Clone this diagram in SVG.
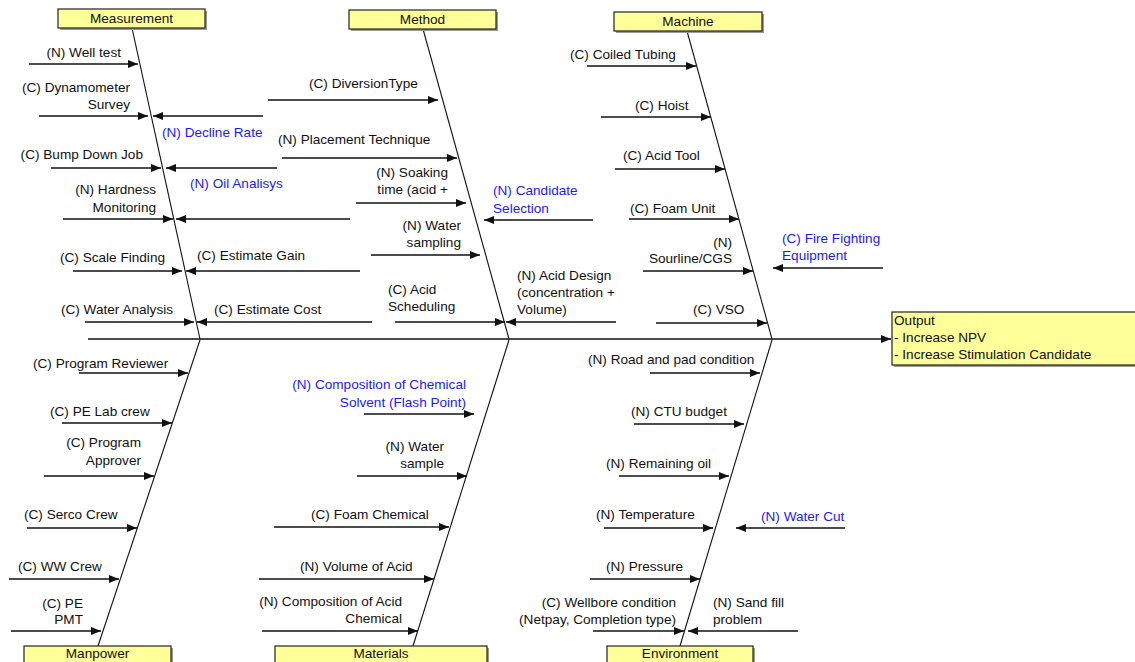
<svg xmlns="http://www.w3.org/2000/svg" width="1135" height="662" viewBox="0 0 1135 662">
<style>
text{font-family:"Liberation Sans",Arial,sans-serif;font-size:13.6px;fill:#111}
.b{fill:#1a1aff}
.e{text-anchor:end}
.m{text-anchor:middle}
.box{fill:#ffff99;stroke:#222;stroke-width:1.2}
.sh{fill:#999}
.bone{stroke:#111;stroke-width:1.1;fill:none}
.ar{stroke:#111;stroke-width:1.5;fill:none;marker-end:url(#ah)}
.ln{stroke:#111;stroke-width:1.5;fill:none}
</style>
<defs>
<marker id="ah" markerUnits="userSpaceOnUse" markerWidth="11" markerHeight="9" refX="10" refY="4" orient="auto">
<path d="M0,0 L10,4 L0,8 z" fill="#111"/>
</marker>
</defs>
<rect width="1135" height="662" fill="#fff"/>

<g id="connectors">
<line class="ar" x1="88" y1="339" x2="891" y2="339"/>
<line class="bone" x1="132" y1="28" x2="200" y2="339"/>
<line class="bone" x1="200" y1="340" x2="98" y2="646"/>
<line class="bone" x1="423" y1="29" x2="509" y2="339"/>
<line class="bone" x1="509" y1="340" x2="413" y2="646"/>
<line class="bone" x1="687" y1="31" x2="772" y2="339"/>
<line class="bone" x1="772" y1="340" x2="680" y2="646"/>
<!-- Measurement -->
<line class="ar" x1="29" y1="64" x2="138" y2="64"/>
<line class="ar" x1="39" y1="116" x2="148" y2="116"/>
<line class="ar" x1="263" y1="116" x2="153" y2="116"/>
<line class="ar" x1="51" y1="168" x2="161" y2="168"/>
<line class="ar" x1="277" y1="168" x2="166" y2="168"/>
<line class="ar" x1="63" y1="219" x2="173" y2="219"/>
<line class="ar" x1="350" y1="219" x2="176" y2="219"/>
<line class="ar" x1="73" y1="271" x2="182" y2="271"/>
<line class="ar" x1="360" y1="271" x2="186" y2="271"/>
<line class="ar" x1="85" y1="322" x2="194" y2="322"/>
<line class="ar" x1="372" y1="322" x2="197" y2="322"/>
<!-- Manpower -->
<line class="ar" x1="79" y1="373" x2="188" y2="373"/>
<line class="ar" x1="62" y1="423" x2="172" y2="423"/>
<line class="ar" x1="44" y1="476" x2="154" y2="476"/>
<line class="ar" x1="27" y1="528" x2="137" y2="528"/>
<line class="ar" x1="9" y1="579" x2="119" y2="579"/>
<line class="ar" x1="11" y1="631" x2="101" y2="631"/>
<!-- Method -->
<line class="ar" x1="268" y1="100" x2="438" y2="100"/>
<line class="ar" x1="282" y1="158" x2="457" y2="158"/>
<line class="ar" x1="356" y1="203" x2="466" y2="203"/>
<line class="ar" x1="593" y1="220" x2="484" y2="220"/>
<line class="ar" x1="371" y1="255" x2="480" y2="255"/>
<line class="ar" x1="395" y1="322" x2="505" y2="322"/>
<line class="ar" x1="616" y1="322" x2="506" y2="322"/>
<!-- Machine -->
<line class="ar" x1="587" y1="66" x2="696" y2="66"/>
<line class="ar" x1="601" y1="117" x2="711" y2="117"/>
<line class="ar" x1="615" y1="169" x2="725" y2="169"/>
<line class="ar" x1="629" y1="219" x2="739" y2="219"/>
<line class="ar" x1="643" y1="271" x2="753" y2="271"/>
<line class="ar" x1="656" y1="323" x2="767" y2="323"/>
<line class="ar" x1="883" y1="268" x2="773" y2="268"/>
<!-- Materials -->
<line class="ar" x1="364" y1="414" x2="474" y2="414"/>
<line class="ar" x1="357" y1="476" x2="467" y2="476"/>
<line class="ar" x1="274" y1="527" x2="449" y2="527"/>
<line class="ar" x1="259" y1="579" x2="434" y2="579"/>
<line class="ar" x1="262" y1="631" x2="418" y2="631"/>
<!-- Environment -->
<line class="ar" x1="650" y1="373" x2="760" y2="373"/>
<line class="ar" x1="634" y1="424" x2="744" y2="424"/>
<line class="ar" x1="619" y1="476" x2="729" y2="476"/>
<line class="ar" x1="604" y1="528" x2="713" y2="528"/>
<line class="ar" x1="845" y1="528" x2="736" y2="528"/>
<line class="ar" x1="590" y1="579" x2="700" y2="579"/>
<line class="ar" x1="593" y1="631" x2="684" y2="631"/>
<line class="ar" x1="798" y1="631" x2="688" y2="631"/>
</g>

<g id="measurement">
<rect class="sh" x="60" y="11" width="147" height="19"/>
<rect class="box" x="58" y="9" width="147" height="19"/>
<text class="m" x="131.5" y="23">Measurement</text>
<text class="e" x="121" y="57">(N) Well test</text>
<text class="e" x="130" y="92">(C) Dynamometer</text>
<text class="e" x="130" y="109">Survey</text>
<text class="b" x="162" y="137">(N) Decline Rate</text>
<text class="e" x="143" y="159">(C) Bump Down Job</text>
<text class="b" x="190" y="188">(N) Oil Analisys</text>
<text class="e" x="156" y="194">(N) Hardness</text>
<text class="e" x="156" y="212">Monitoring</text>
<text class="e" x="165" y="262">(C) Scale Finding</text>
<text x="197" y="260">(C) Estimate Gain</text>
<text class="e" x="173" y="314">(C) Water Analysis</text>
<text x="214" y="314">(C) Estimate Cost</text>
</g>

<g id="method">
<rect class="sh" x="351" y="12" width="147" height="19"/>
<rect class="box" x="349" y="10" width="147" height="19"/>
<text class="m" x="422.5" y="24">Method</text>
<text x="309" y="88">(C) DiversionType</text>
<text x="278" y="144">(N) Placement Technique</text>
<text class="e" x="448" y="177">(N) Soaking</text>
<text class="e" x="448" y="194">time (acid +</text>
<text class="b" x="493" y="195">(N) Candidate</text>
<text class="b" x="493" y="213">Selection</text>
<text class="e" x="461" y="230">(N) Water</text>
<text class="e" x="461" y="247">sampling</text>
<text x="388" y="294">(C) Acid</text>
<text x="388" y="311">Scheduling</text>
<text x="517" y="280">(N) Acid Design</text>
<text x="517" y="297">(concentration +</text>
<text x="517" y="314">Volume)</text>
</g>

<g id="machine">
<rect class="sh" x="616" y="14" width="148" height="19"/>
<rect class="box" x="614" y="12" width="148" height="19"/>
<text class="m" x="688" y="26">Machine</text>
<text x="570" y="59">(C) Coiled Tubing</text>
<text x="635" y="110">(C) Hoist</text>
<text x="623" y="160">(C) Acid Tool</text>
<text x="630" y="213">(C) Foam Unit</text>
<text class="e" x="732" y="247">(N)</text>
<text class="e" x="732" y="263">Sourline/CGS</text>
<text x="693" y="314">(C) VSO</text>
<text class="b" x="782" y="243">(C) Fire Fighting</text>
<text class="b" x="782" y="260">Equipment</text>
</g>

<g id="manpower">
<rect class="sh" x="26" y="648" width="147" height="20"/>
<rect class="box" x="24" y="646" width="147" height="20"/>
<text class="m" x="97.5" y="658">Manpower</text>
<text x="33" y="368">(C) Program Reviewer</text>
<text x="50" y="416">(C) PE Lab crew</text>
<text class="e" x="141" y="447">(C) Program</text>
<text class="e" x="141" y="465">Approver</text>
<text x="24" y="519">(C) Serco Crew</text>
<text x="18" y="571">(C) WW Crew</text>
<text class="e" x="83" y="608">(C) PE</text>
<text class="e" x="83" y="624">PMT</text>
</g>

<g id="materials">
<rect class="sh" x="277" y="648" width="212" height="20"/>
<rect class="box" x="275" y="646" width="212" height="20"/>
<text class="m" x="381" y="658">Materials</text>
<text class="e b" x="466" y="389">(N) Composition of Chemical</text>
<text class="e b" x="466" y="407">Solvent (Flash Point)</text>
<text class="e" x="444" y="451">(N) Water</text>
<text class="e" x="444" y="468">sample</text>
<text x="311" y="519">(C) Foam Chemical</text>
<text x="300" y="571">(N) Volume of Acid</text>
<text class="e" x="402" y="606">(N) Composition of Acid</text>
<text class="e" x="402" y="623">Chemical</text>
</g>

<g id="environment">
<rect class="sh" x="609" y="648" width="146" height="20"/>
<rect class="box" x="607" y="646" width="146" height="20"/>
<text class="m" x="680" y="658">Environment</text>
<text x="588" y="364">(N) Road and pad condition</text>
<text x="631" y="416">(N) CTU budget</text>
<text x="606" y="468">(N) Remaining oil</text>
<text x="596" y="519">(N) Temperature</text>
<text class="b" x="761" y="521">(N) Water Cut</text>
<text x="606" y="571">(N) Pressure</text>
<text class="e" x="676" y="607">(C) Wellbore condition</text>
<text class="e" x="676" y="624">(Netpay, Completion type)</text>
<text x="713" y="607">(N) Sand fill</text>
<text x="713" y="624">problem</text>
</g>

<g id="output">
<rect class="sh" x="894" y="314" width="250" height="53"/>
<rect class="box" x="892" y="312" width="250" height="53"/>
<text x="894" y="325">Output</text>
<text x="894" y="342">- Increase NPV</text>
<text x="894" y="359">- Increase Stimulation Candidate</text>
</g>
</svg>
